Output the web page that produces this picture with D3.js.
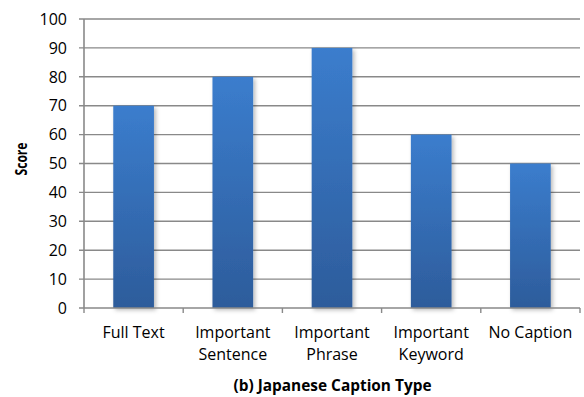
<!DOCTYPE html>
<html>
<head>
<meta charset="utf-8">
<script src="https://cdn.jsdelivr.net/npm/d3@7"></script>
<style>
  html, body { margin: 0; padding: 0; background: #fff; }
  svg text { font-family: "Open Sans", Lato, sans-serif; fill: #000; }
</style>
</head>
<body>
<svg id="chart" width="584" height="397"></svg>
<script>
// Scores by caption type
const categories = ["Full Text", "Important Sentence", "Important Phrase", "Important Keyword", "No Caption"];
const categoryLines = [["Full Text"], ["Important", "Sentence"], ["Important", "Phrase"], ["Important", "Keyword"], ["No Caption"]];
const scores = [70, 80, 90, 60, 50];
const yTicks = [0, 10, 20, 30, 40, 50, 60, 70, 80, 90, 100];
const yTitle = "Score";
const xTitle = "(b) Japanese Caption Type";

const svg = d3.select("#chart");
const margin = { left: 84, right: 4, top: 19, bottom: 89 };
const W = 584, H = 397;

const x = d3.scaleBand().domain(categories).range([margin.left, W - margin.right]).paddingInner(0.59).paddingOuter(0.295);
const xEdges = d3.scaleLinear().domain([0, categories.length]).range([margin.left, W - margin.right]);
const y = d3.scaleLinear().domain([0, 100]).range([H - margin.bottom, margin.top]);

const defs = svg.append("defs");
const grad = defs.append("linearGradient").attr("id", "barGrad").attr("x1", 0).attr("y1", 0).attr("x2", 0).attr("y2", 1);
grad.append("stop").attr("offset", "0%").attr("stop-color", "#3b7dcd");
grad.append("stop").attr("offset", "100%").attr("stop-color", "#2d5c9b");
const shadow = defs.append("filter").attr("id", "shadow").attr("x", "-20%").attr("y", "-10%").attr("width", "150%").attr("height", "130%");
shadow.append("feDropShadow").attr("dx", 2).attr("dy", 2).attr("stdDeviation", 2.2).attr("flood-color", "#000").attr("flood-opacity", 0.28);

// Horizontal gridlines
svg.append("g").selectAll("line").data(yTicks.filter(d => d > 0)).join("line")
  .attr("x1", margin.left - 5).attr("x2", W - margin.right)
  .attr("y1", d => y(d)).attr("y2", d => y(d))
  .attr("stroke", "#898989").attr("stroke-width", 1.4);

// Bars
svg.append("g").selectAll("rect").data(scores).join("rect")
  .attr("x", (d, i) => x(categories[i]))
  .attr("width", x.bandwidth())
  .attr("y", d => y(d))
  .attr("height", d => y(0) - y(d))
  .attr("fill", "url(#barGrad)")
  .attr("filter", "url(#shadow)");

// Axes lines
const axisColor = "#898989";
svg.append("line").attr("x1", margin.left).attr("x2", margin.left).attr("y1", margin.top).attr("y2", y(0))
  .attr("stroke", axisColor).attr("stroke-width", 1.6);
svg.append("line").attr("x1", margin.left - 5).attr("x2", W - margin.right).attr("y1", y(0)).attr("y2", y(0))
  .attr("stroke", axisColor).attr("stroke-width", 1.6);
svg.append("g").selectAll("line").data(d3.range(categories.length + 1)).join("line")
  .attr("x1", d => xEdges(d)).attr("x2", d => xEdges(d))
  .attr("y1", y(0)).attr("y2", y(0) + 5)
  .attr("stroke", axisColor).attr("stroke-width", 1.4);

// Y tick labels
svg.append("g").selectAll("text").data(yTicks).join("text")
  .attr("x", margin.left - 17).attr("y", d => y(d)).attr("dy", "0.36em")
  .attr("text-anchor", "end").attr("font-size", 16).text(d => d);

// Category labels
const catG = svg.append("g").selectAll("text").data(categoryLines).join("text")
  .attr("text-anchor", "middle").attr("font-size", 16)
  .attr("x", (d, i) => x(categories[i]) + x.bandwidth() / 2);
catG.selectAll("tspan").data(d => d).join("tspan")
  .attr("x", function () { return d3.select(this.parentNode).attr("x"); })
  .attr("y", (d, j) => 338 + j * 22)
  .text(d => d);

// Axis titles
svg.append("text").attr("transform", `translate(27,159) rotate(-90)`)
  .attr("text-anchor", "middle").attr("font-size", 16).attr("font-weight", "bold")
  .attr("textLength", 33).attr("lengthAdjust", "spacingAndGlyphs").text(yTitle);
svg.append("text").attr("x", 332.5).attr("y", 391)
  .attr("text-anchor", "middle").attr("font-size", 16).attr("font-weight", "bold")
  .attr("textLength", 198).attr("lengthAdjust", "spacingAndGlyphs").text(xTitle);
</script>
</body>
</html>
